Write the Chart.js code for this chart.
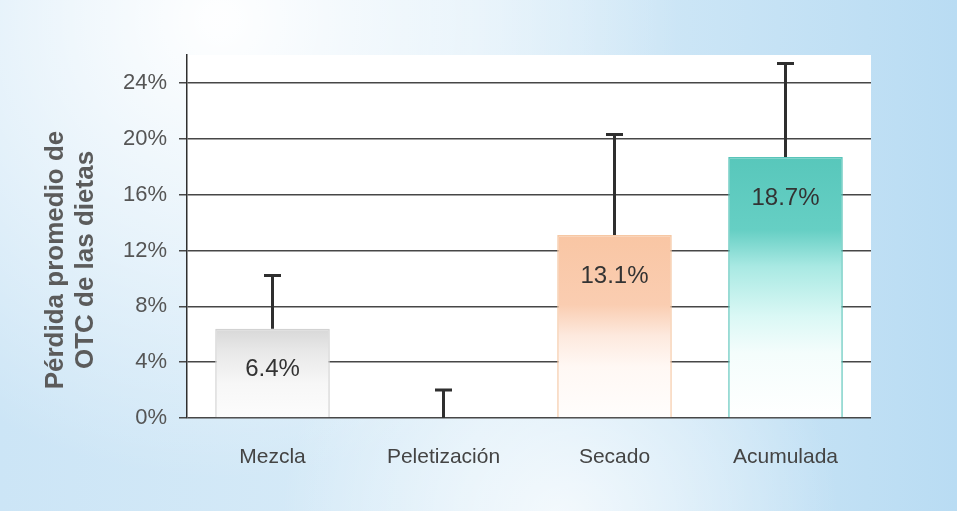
<!DOCTYPE html>
<html>
<head>
<meta charset="utf-8">
<script src="https://cdn.jsdelivr.net/npm/chart.js@4/dist/chart.umd.min.js"></script>
<style>
  html, body { margin: 0; padding: 0; background: #cbe4f5; }
  #wrap { width: 957px; height: 511px; }
</style>
</head>
<body>
<div id="wrap"><canvas id="c" width="957" height="511"></canvas></div>
<script>
// OTC loss per feed-processing stage (mean %, with upper deviation)
const categories = ['Mezcla', 'Peletización', 'Secado', 'Acumulada'];
const lossPct = [6.4, 0, 13.1, 18.7];
const errorPct = [3.8, 2.0, 7.2, 6.7];
const yTickValues = [0, 4, 8, 12, 16, 20, 24];
const yAxisTitle = ['Pérdida promedio de', 'OTC de las dietas'];

// Vertical fade for each bar: [offset, colour] pairs, top to bottom
const barFades = [
  [[0, '#d8d8d8'], [0.25, '#e8e8e8'], [0.62, '#f7f7f7'], [1, '#fcfcfc']],
  [[0, '#ffffff'], [1, '#ffffff']],
  [[0, '#f9c6a4'], [0.38, '#facdb1'], [0.55, '#fde9de'], [0.72, '#fff8f4'], [1, '#fffdfc']],
  [[0, '#58c7bb'], [0.28, '#66cfc4'], [0.42, '#a9e9e3'], [0.61, '#daf8f5'], [0.75, '#f4fdfc'], [1, '#ffffff']]
];
const barEdges = ['#d2d2d2', '#ffffff', '#f6c8a4', '#58c4b9'];

const FONT = '"Liberation Sans", Arial, sans-serif';

function barGradient(ctx) {
  const chart = ctx.chart;
  const i = ctx.dataIndex;
  const stops = barFades[i];
  if (!chart.chartArea || !chart.scales.y) return stops[0][1];
  const y = chart.scales.y;
  const top = y.getPixelForValue(lossPct[i]);
  const bottom = y.getPixelForValue(0);
  if (!(bottom > top)) return stops[0][1];
  const g = chart.ctx.createLinearGradient(0, top, 0, bottom);
  stops.forEach(([o, c]) => g.addColorStop(o, c));
  return g;
}

// Page backdrop with white plotting field
const backdrop = {
  id: 'backdrop',
  beforeDraw(chart) {
    const { ctx, width, height, chartArea } = chart;
    ctx.save();
    let g = ctx.createLinearGradient(0, 0, width, 0);
    g.addColorStop(0, '#cce5f6');
    g.addColorStop(0.5, '#d9ecf8');
    g.addColorStop(1, '#b9dcf3');
    ctx.fillStyle = g;
    ctx.fillRect(0, 0, width, height);
    g = ctx.createRadialGradient(220, 20, 10, 220, 20, 460);
    g.addColorStop(0, 'rgba(255,255,255,0.97)');
    g.addColorStop(0.5, 'rgba(255,255,255,0.5)');
    g.addColorStop(1, 'rgba(255,255,255,0)');
    ctx.fillStyle = g;
    ctx.fillRect(0, 0, width, height);
    g = ctx.createRadialGradient(560, 520, 10, 560, 520, 280);
    g.addColorStop(0, 'rgba(255,255,255,0.7)');
    g.addColorStop(1, 'rgba(255,255,255,0)');
    ctx.fillStyle = g;
    ctx.fillRect(0, 0, width, height);
    ctx.fillStyle = '#ffffff';
    ctx.fillRect(chartArea.left, chartArea.top, chartArea.right - chartArea.left, chartArea.bottom - chartArea.top);
    ctx.restore();
  }
};

// Upper whiskers from each bar top
const errorBars = {
  id: 'errorBars',
  afterDatasetsDraw(chart) {
    const { ctx, scales: { x, y } } = chart;
    ctx.save();
    ctx.strokeStyle = '#2f2f2f';
    ctx.lineWidth = 3;
    lossPct.forEach((v, i) => {
      const px = x.getPixelForValue(i);
      const y0 = y.getPixelForValue(v);
      const y1 = y.getPixelForValue(v + errorPct[i]);
      ctx.beginPath();
      ctx.moveTo(px, y0);
      ctx.lineTo(px, y1);
      ctx.moveTo(px - 8.5, y1);
      ctx.lineTo(px + 8.5, y1);
      ctx.stroke();
    });
    ctx.restore();
  }
};

// Value labels inside the bars
const valueLabels = {
  id: 'valueLabels',
  afterDatasetsDraw(chart) {
    const { ctx, scales: { x, y } } = chart;
    ctx.save();
    ctx.font = '24px ' + FONT;
    ctx.fillStyle = '#333333';
    ctx.textAlign = 'center';
    ctx.textBaseline = 'middle';
    lossPct.forEach((v, i) => {
      if (v <= 0) return;
      ctx.fillText(v.toFixed(1) + '%', x.getPixelForValue(i), y.getPixelForValue(v) + 41);
    });
    ctx.restore();
  }
};

// Two-line rotated y-axis title
const yTitle = {
  id: 'yTitle',
  afterDraw(chart) {
    const { ctx } = chart;
    ctx.save();
    ctx.font = 'bold 26px ' + FONT;
    ctx.fillStyle = '#5b5b5b';
    ctx.textAlign = 'center';
    ctx.textBaseline = 'alphabetic';
    const baselines = [63, 93];
    yAxisTitle.forEach((line, k) => {
      ctx.save();
      ctx.translate(baselines[k], 260);
      ctx.rotate(-Math.PI / 2);
      ctx.fillText(line, 0, 0);
      ctx.restore();
    });
    ctx.restore();
  }
};

new Chart(document.getElementById('c'), {
  type: 'bar',
  data: {
    labels: categories,
    datasets: [{
      data: lossPct,
      backgroundColor: barGradient,
      borderColor: barEdges,
      borderWidth: 1.5,
      borderSkipped: 'start',
      barPercentage: 0.67,
      categoryPercentage: 1
    }]
  },
  options: {
    responsive: false,
    animation: false,
    devicePixelRatio: 1,
    layout: { padding: { top: 55, right: 86, bottom: 0, left: 0 } },
    plugins: { legend: { display: false }, tooltip: { enabled: false } },
    scales: {
      x: {
        grid: { display: false, drawTicks: false },
        border: { display: false },
        ticks: { font: { family: FONT, size: 21 }, color: '#444444', padding: 27 },
        afterFit(scale) { scale.height = 93; }
      },
      y: {
        min: 0,
        max: 26,
        afterBuildTicks(scale) { scale.ticks = yTickValues.map(v => ({ value: v })); },
        ticks: {
          font: { family: FONT, size: 22 },
          color: '#555555',
          padding: 12,
          callback: v => v + '%'
        },
        grid: { color: '#474747', lineWidth: 1.5, tickLength: 8, tickColor: '#474747' },
        border: { color: '#2f2f2f', width: 1.5 },
        afterFit(scale) { scale.width = 187; }
      }
    }
  },
  plugins: [backdrop, errorBars, valueLabels, yTitle]
});
</script>
</body>
</html>
